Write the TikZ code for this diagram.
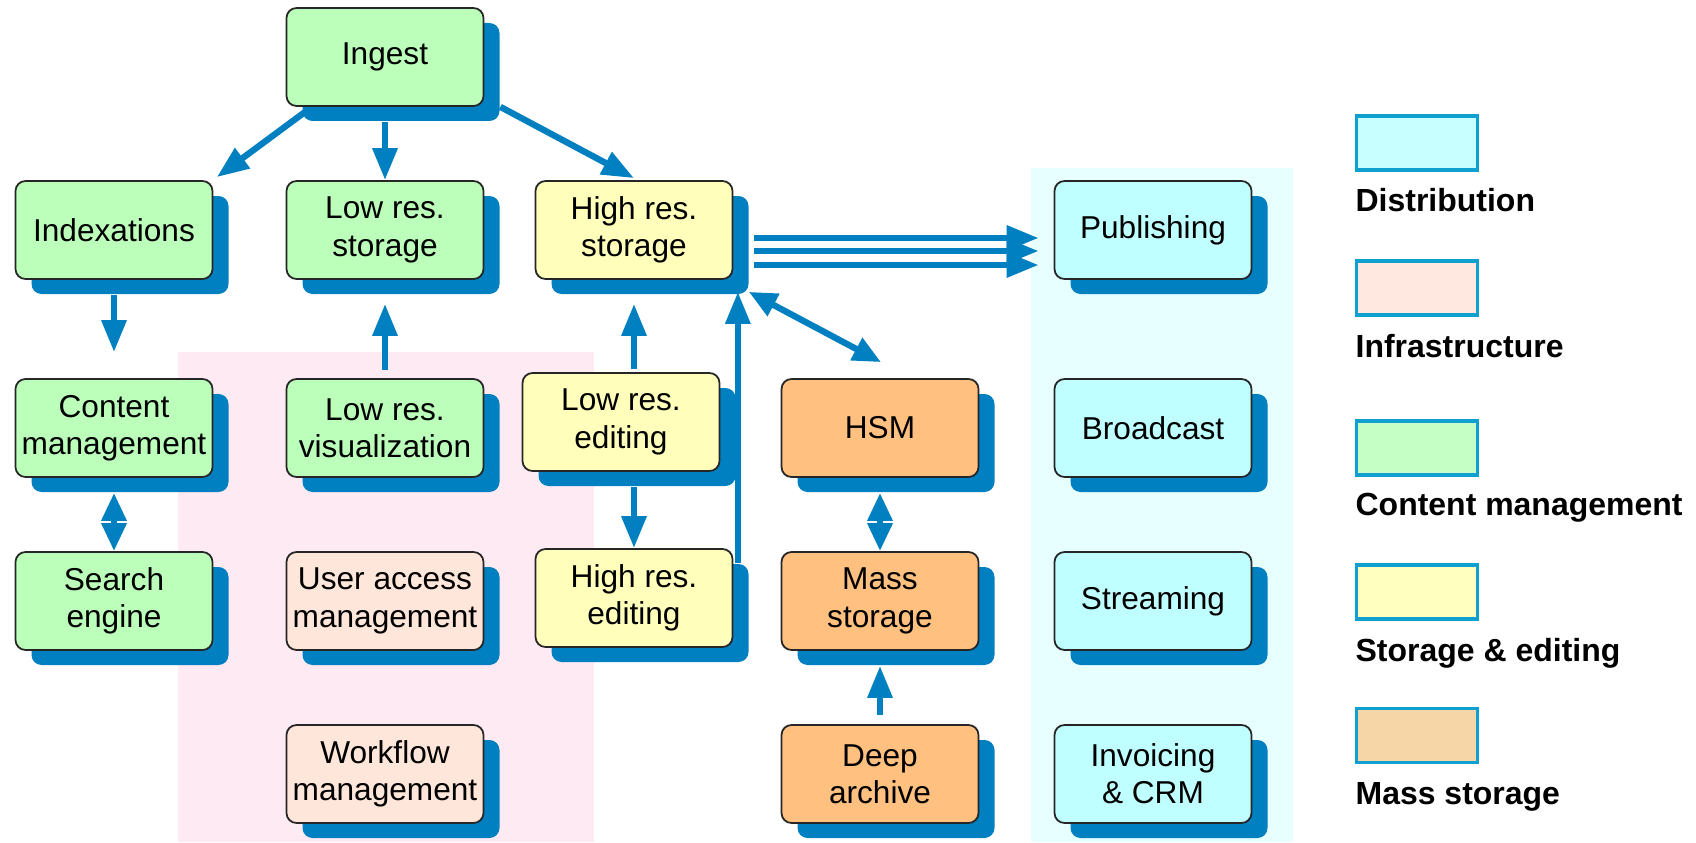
\documentclass[tikz,border=0pt]{standalone}
\usepackage{fontspec}
\setmainfont{Liberation Sans}
\usetikzlibrary{arrows.meta, positioning, shadows, calc}

\definecolor{flowblue}{RGB}{0,128,192}
\definecolor{cmgreen}{RGB}{187,255,187}
\definecolor{edyellow}{RGB}{255,255,187}
\definecolor{msorange}{RGB}{255,192,128}
\definecolor{infpeach}{RGB}{255,230,218}
\definecolor{distcyan}{RGB}{192,255,255}
\definecolor{infzone}{RGB}{254,234,243}
\definecolor{distzone}{RGB}{232,255,255}
\definecolor{legframe}{RGB}{16,160,208}
\definecolor{legcyan}{RGB}{200,255,255}
\definecolor{legpeach}{RGB}{255,232,224}
\definecolor{leggreen}{RGB}{198,255,198}
\definecolor{legyellow}{RGB}{255,255,192}
\definecolor{legtan}{RGB}{246,214,166}

\begin{document}
\begin{tikzpicture}[>={Triangle[length=3.2mm, width=2.4mm]},
  box/.style={draw=black!85, line width=0.5pt, rounded corners=0.1cm,
    minimum width=1.97cm, minimum height=0.98cm, inner xsep=1pt, align=center,
    font=\fontsize{9}{10.6}\selectfont,
    drop shadow={shadow xshift=0.16cm, shadow yshift=-0.15cm, fill=flowblue, opacity=1}},
  greenbox/.style={box, fill=cmgreen},
  yellowbox/.style={box, fill=edyellow},
  orangebox/.style={box, fill=msorange},
  peachbox/.style={box, fill=infpeach},
  cyanbox/.style={box, fill=distcyan},
  flow/.style={->, draw=flowblue, line width=1.8pt},
  flowboth/.style={{Triangle[length=2.8mm, width=2.4mm]}-{Triangle[length=2.8mm, width=2.4mm]}, draw=flowblue, line width=1.8pt},
  legbox/.style={draw=legframe, line width=0.9pt, minimum width=1.21cm, minimum height=0.54cm},
  legtxt/.style={anchor=base west, inner sep=0pt, font=\fontsize{9.1}{11}\selectfont\bfseries}]
  \useasboundingbox (0,0) rectangle (16.96,8.42);

  % shaded zones
  \fill[infzone] (1.78,0) rectangle (5.94,4.905);
  \fill[distzone] (10.31,0) rectangle (12.93,6.745);

  % boxes
  \node[greenbox] (ingest) at (3.85,7.85) {Ingest};
  \node[greenbox] (idx) at (1.14,6.12) {Indexations};
  \node[greenbox] (lrs) at (3.85,6.12) {Low res.\\storage};
  \node[yellowbox] (hrs) at (6.34,6.12) {High res.\\storage};
  \node[cyanbox] (pub) at (11.53,6.12) {Publishing};

  \node[greenbox] (content) at (1.14,4.14) {Content\\management};
  \node[greenbox] (lrv) at (3.85,4.14) {Low res.\\visualization};
  \node[yellowbox] (lre) at (6.21,4.20) {Low res.\\editing};
  \node[orangebox] (hsm) at (8.80,4.14) {HSM};
  \node[cyanbox] (bcast) at (11.53,4.14) {Broadcast};

  \node[greenbox] (search) at (1.14,2.41) {Search\\engine};
  \node[peachbox] (uam) at (3.85,2.41) {User access\\management};
  \node[yellowbox] (hre) at (6.34,2.44) {High res.\\editing};
  \node[orangebox] (mass) at (8.80,2.41) {Mass\\storage};
  \node[cyanbox] (stream) at (11.53,2.41) {Streaming};

  \node[peachbox] (wfm) at (3.85,0.68) {Workflow\\management};
  \node[orangebox] (deep) at (8.80,0.68) {Deep\\archive};
  \node[cyanbox] (invoice) at (11.53,0.68) {Invoicing\\\& CRM};

  % flows out of ingest
  \draw[flow] ([shift={(0.195,-0.05)}]ingest.south west) -- ([shift={(0.035,0.03)}]idx.north east);
  \draw[flow] ([yshift=-1.5mm]ingest.south) -- (lrs.north);
  \draw[flow] ([xshift=1.6mm]ingest.south east) -- ([yshift=0.2mm]hrs.north);

  % content management column
  \draw[flow] ([yshift=-1.5mm]idx.south) -- ([yshift=2.6mm]content.north);
  \draw[flowboth] ([yshift=-1.5mm]content.south) -- (search.north);

  % storage and editing
  \draw[flow] ([yshift=0.8mm]lrv.north) -- ([yshift=-2.4mm]lrs.south);
  \draw[flow] ($(hrs.south |- lre.north)+(0,0.03)$) -- ([yshift=-2.4mm]hrs.south);
  \draw[flow] ($(hre.north |- lre.south)+(0,-0.15)$) -- (hre.north);
  \draw[flow] ([shift={(0.045,-0.15)}]hre.north east) -- ([shift={(0.045,-0.12)}]hrs.south east);

  % mass storage chain
  \draw[flowboth] ([shift={(0.155,-0.12)}]hrs.south east) -- ([shift={(0.01,0.16)}]hsm.north);
  \draw[flowboth] ([yshift=-1.5mm]hsm.south) -- (mass.north);
  \draw[flow] ([yshift=0.9mm]deep.north) -- ([yshift=-1.5mm]mass.south);

  % distribution
  \foreach \dy in {0.08,0.21,0.35}
    \draw[flow] ([shift={(0.21,-\dy)}]hrs.east) -- ([shift={(-0.15,-\dy)}]pub.west);

  % legend
  \node[legbox, fill=legcyan] (lgdist) at (14.17,6.99) {};
  \node[legbox, fill=legpeach] (lginf) at (14.17,5.54) {};
  \node[legbox, fill=leggreen] (lgcm) at (14.17,3.94) {};
  \node[legbox, fill=legyellow] (lged) at (14.17,2.50) {};
  \node[legbox, fill=legtan] (lgms) at (14.17,1.065) {};
  \node[legtxt] (lgdisttxt) at ([yshift=-6.85mm]lgdist.west) {Distribution};
  \node[legtxt] (lginftxt) at ([yshift=-6.95mm]lginf.west) {Infrastructure};
  \node[legtxt] (lgcmtxt) at ([yshift=-6.75mm]lgcm.west) {Content management};
  \node[legtxt] (lgedtxt) at ([yshift=-6.95mm]lged.west) {Storage \& editing};
  \node[legtxt] (lgmstxt) at ([yshift=-6.85mm]lgms.west) {Mass storage};
\end{tikzpicture}
\end{document}
